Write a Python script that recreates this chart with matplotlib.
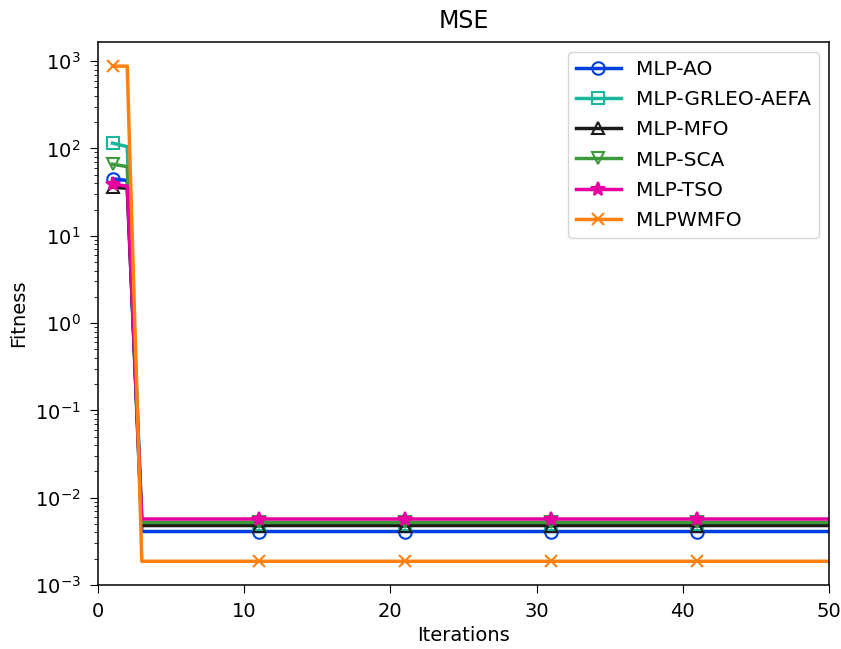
import numpy as np
import matplotlib
matplotlib.use("Agg")
import matplotlib.pyplot as plt

iterations = np.arange(1, 51)

names = ['MLP-AO', 'MLP-GRLEO-AEFA', 'MLP-MFO', 'MLP-SCA', 'MLP-TSO', 'MLPWMFO']
first_vals = [45.0, 115.0, 36.0, 66.0, 39.0, 877.0]
second_vals = [43.0, 105.0, 35.0, 62.0, 37.0, 877.0]
final_vals = [0.0041, 0.0050, 0.0048, 0.0052, 0.0057, 0.00187]

colors = ['#0040e0', '#1ab89a', '#1a1a1a', '#3c9a3c', '#e600a0', '#ff8010']
markers = ['o', 's', '^', 'v', '*', 'x']

plt.rcParams['font.size'] = 14
plt.rcParams['xtick.major.size'] = 5.5
plt.rcParams['ytick.major.size'] = 5.5
plt.rcParams['xtick.minor.size'] = 3
plt.rcParams['ytick.minor.size'] = 3
plt.rcParams['xtick.major.pad'] = 7
plt.rcParams['ytick.major.pad'] = 7
plt.rcParams['axes.linewidth'] = 1.1

fig, ax = plt.subplots(figsize=(8.41, 6.49), dpi=100)
fig.subplots_adjust(left=0.1165, right=0.9857, top=0.935, bottom=0.0986)

for name, v1, v2, vf, c, m in zip(names, first_vals, second_vals, final_vals, colors, markers):
    y = np.full(len(iterations), vf)
    y[0] = v1
    y[1] = v2
    ax.plot(iterations, y, color=c, lw=2.5, marker=m, markevery=10,
            markersize=9 if m != '*' else 10, fillstyle='none' if m != '*' else 'full',
            markeredgewidth=1.5, label=name)

ax.set_yscale('log')
ax.set_xlim(0, 50)
ax.set_ylim(1e-3, 1650)
ax.set_title('MSE', fontsize=17, pad=10)
ax.set_xlabel('Iterations', labelpad=3)
ax.set_ylabel('Fitness', labelpad=5)
ax.legend(loc='upper right', fontsize=14.5, handlelength=2.24, handletextpad=0.75,
          labelspacing=0.55)
fig.savefig('out.png')
